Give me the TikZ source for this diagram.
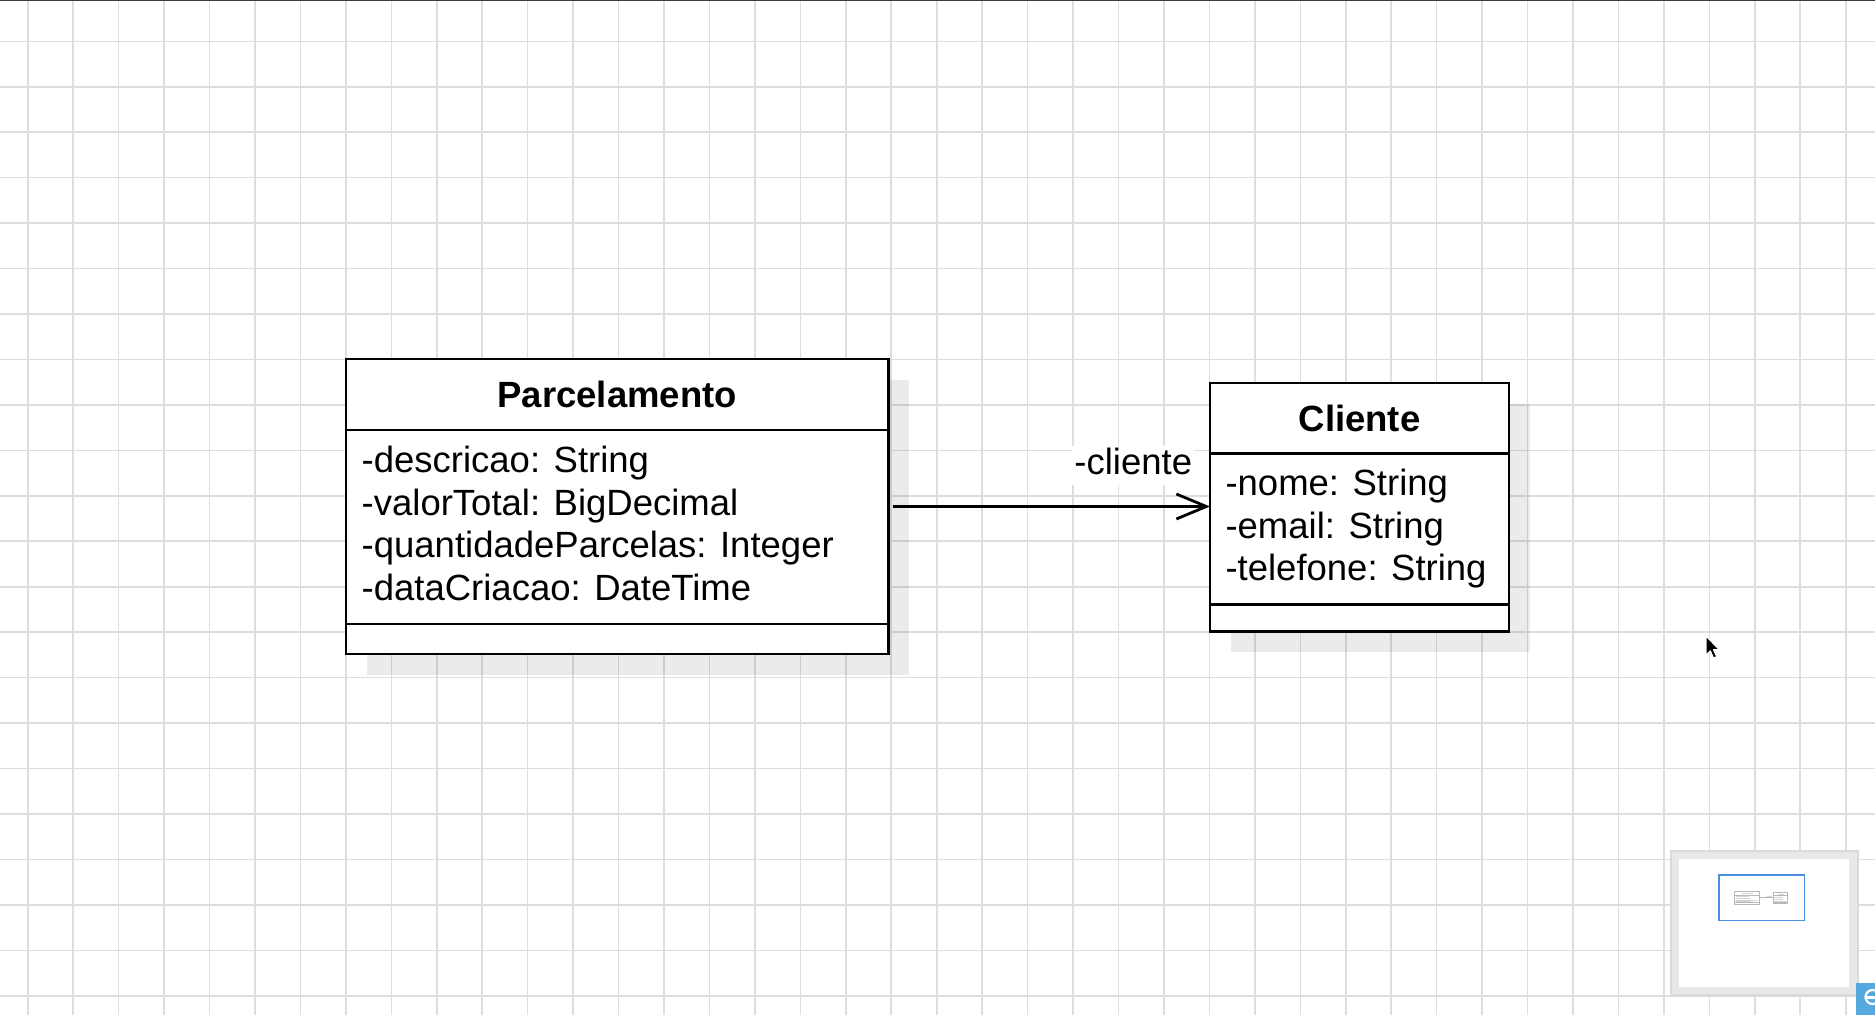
\documentclass[tikz,border=0pt]{standalone}
\usepackage{fontspec}
\setmainfont{Liberation Sans}
\usetikzlibrary{arrows.meta,fit}
\pgfdeclarelayer{gridlayer}
\pgfdeclarelayer{shadowlayer}
\pgfsetlayers{gridlayer,shadowlayer,main}
\definecolor{gridc}{HTML}{DEDEDE}
\definecolor{topbar}{HTML}{3C3C3C}
\definecolor{framec}{HTML}{E8E8E8}
\definecolor{frameshade}{HTML}{DADADA}
\definecolor{minib}{HTML}{4A8FE2}
\definecolor{minig}{HTML}{B8B8B8}
\definecolor{minit}{HTML}{D2D2D2}
\definecolor{iconb}{HTML}{56A9DE}
\tikzset{
  comp/.style={draw=black, fill=white, line width=2.8pt, outer sep=0pt, inner sep=0pt, anchor=north},
  ctitle/.style={font=\bfseries\fontsize{36.5}{44}\selectfont, inner sep=0pt},
  attr/.style={font=\fontsize{36.5}{44}\selectfont, inner sep=0pt, anchor=base west},
  assoc/.style={line width=2.8pt, -{Straight Barb[length=30pt,width=25pt,line width=2.8pt]}, shorten <=4pt},
  lbl/.style={font=\fontsize{36.5}{44}\selectfont, fill=white, inner sep=2pt, text height=27pt, text depth=8pt, anchor=base east},
  gridline/.style={draw=gridc, line width=1.6pt},
  shade/.style={fill=black, fill opacity=0.08},
  minibox/.style={draw=minig, fill=white, line width=0.7pt, inner sep=0pt, outer sep=0pt, anchor=north west},
  minitext/.style={draw=minit, line width=0.9pt},
}
\begin{document}
\begin{tikzpicture}[x=1pt,y=-1pt]
\useasboundingbox (0,0) rectangle (1875,1015);
\begin{pgfonlayer}{gridlayer}
  \fill[white] (0,0) rectangle (1875,1015);
  \foreach \i in {0,...,40} \draw[gridline] ({27.7+45.45*\i},0) -- ({27.7+45.45*\i},1015);
  \foreach \j in {0,...,21} \draw[gridline] (0,{41.3+45.45*\j}) -- (1875,{41.3+45.45*\j});
  \fill[topbar] (0,0) rectangle (1875,1.4);
\end{pgfonlayer}

% class Parcelamento
\node[comp, minimum width=542.5pt, minimum height=71pt, anchor=north west] (parcH) at (346,359) {};
\node[comp, minimum width=542.5pt, minimum height=194pt] (parcA) at (parcH.south) {};
\node[comp, minimum width=542.5pt, minimum height=30pt] (parcM) at (parcA.south) {};
\node[ctitle] (parcT) at (parcH.center) {Parcelamento};
\node[attr] (parc1) at ([shift={(15.5,42.5)}]parcA.north west) {-descricao: String};
\node[attr] (parc2) at ([shift={(15.5,85.1)}]parcA.north west) {-valorTotal: BigDecimal};
\node[attr] (parc3) at ([shift={(15.5,127.7)}]parcA.north west) {-quantidadeParcelas: Integer};
\node[attr] (parc4) at ([shift={(15.5,170.3)}]parcA.north west) {-dataCriacao: DateTime};
\node[fit=(parcH)(parcM), inner sep=0pt, outer sep=0pt] (parc) {};

% class Cliente
\node[comp, minimum width=299pt, minimum height=70.5pt, anchor=north west] (cliH) at (1210,383) {};
\node[comp, minimum width=299pt, minimum height=150.7pt] (cliA) at (cliH.south) {};
\node[comp, minimum width=299pt, minimum height=27.6pt] (cliM) at (cliA.south) {};
\node[ctitle] (cliT) at (cliH.center) {Cliente};
\node[attr] (cli1) at ([shift={(15.3,42.3)}]cliA.north west) {-nome: String};
\node[attr] (cli2) at ([shift={(15.3,84.6)}]cliA.north west) {-email: String};
\node[attr] (cli3) at ([shift={(15.3,126.9)}]cliA.north west) {-telefone: String};
\node[fit=(cliH)(cliM), inner sep=0pt, outer sep=0pt] (cli) {};

% shadows
\begin{pgfonlayer}{shadowlayer}
  \fill[shade] ([shift={(20.5,20.5)}]parc.north west) rectangle ([shift={(20.5,20.5)}]parc.south east);
  \fill[shade] ([shift={(20.5,20.5)}]cli.north west) rectangle ([shift={(20.5,20.5)}]cli.south east);
\end{pgfonlayer}

% association
\draw[assoc] (parc.east) -- node[lbl, pos=1, xshift=-14.5pt, yshift=31.7pt] (lblc) {-cliente} (parc.east -| cli.west);

% mouse cursor
\filldraw[fill=black, draw=white, line width=1pt, line join=round]
  (1706,636) -- (1706,655) -- (1710.3,650.8) -- (1713.6,658) -- (1716.6,656.7) -- (1713.4,649.6) -- (1719,649.6) -- cycle;

% overview panel
\fill[frameshade] (1670,850.3) rectangle (1859,997.3);
\fill[framec] (1672.3,852.3) rectangle (1856.7,994.3);
\fill[white] (1679,859) rectangle (1849.3,986.7);
\draw[minib, line width=1.8pt] (1719,875) rectangle (1804.5,920.5);
\node[minibox, minimum width=24.6pt, minimum height=12.8pt] (mparc) at (1734.7,891.7) {};
\node[minibox, minimum width=14.4pt, minimum height=11.2pt] (mcli) at (1773.3,892.3) {};
\draw[minig, line width=0.6pt] (mparc.west |- 0,894.9) -- (mparc.east |- 0,894.9);
\draw[minig, line width=0.6pt] (mparc.west |- 0,902.3) -- (mparc.east |- 0,902.3);
\draw[minig, line width=0.6pt] (mcli.west |- 0,895.7) -- (mcli.east |- 0,895.7);
\draw[minig, line width=0.6pt] (mcli.west |- 0,902.0) -- (mcli.east |- 0,902.0);
\draw[minitext] (1741.5,893.3) -- (1752.5,893.3);
\draw[minitext] (1735.5,896.5) -- (1748.5,896.5);
\draw[minitext] (1735.5,898.4) -- (1750,898.4);
\draw[minitext] (1735.5,900.3) -- (1757,900.3);
\draw[minitext] (1735.5,901.6) -- (1750.5,901.6);
\draw[minitext] (1777.5,894.1) -- (1783.5,894.1);
\draw[minitext] (1774,897.4) -- (1783,897.4);
\draw[minitext] (1774,899.3) -- (1783,899.3);
\draw[minitext] (1774,901.1) -- (1786,901.1);
\draw[minig, line width=0.6pt] (mparc.east |- 0,897.7) -- (mcli.west |- 0,897.7);
\draw[minitext] (1766.5,896) -- (1771.8,896);

% corner icon
\begin{scope}
  \clip (1855.7,983.3) rectangle (1875,1015);
  \fill[iconb] (1855.7,983.3) rectangle (1875,1015);
  \draw[white, line width=2.2pt] (1872.5,997) circle[radius=7];
  \draw[white, line width=2.2pt] (1866,997.5) -- (1875,997.5);
\end{scope}
\end{tikzpicture}
\end{document}
